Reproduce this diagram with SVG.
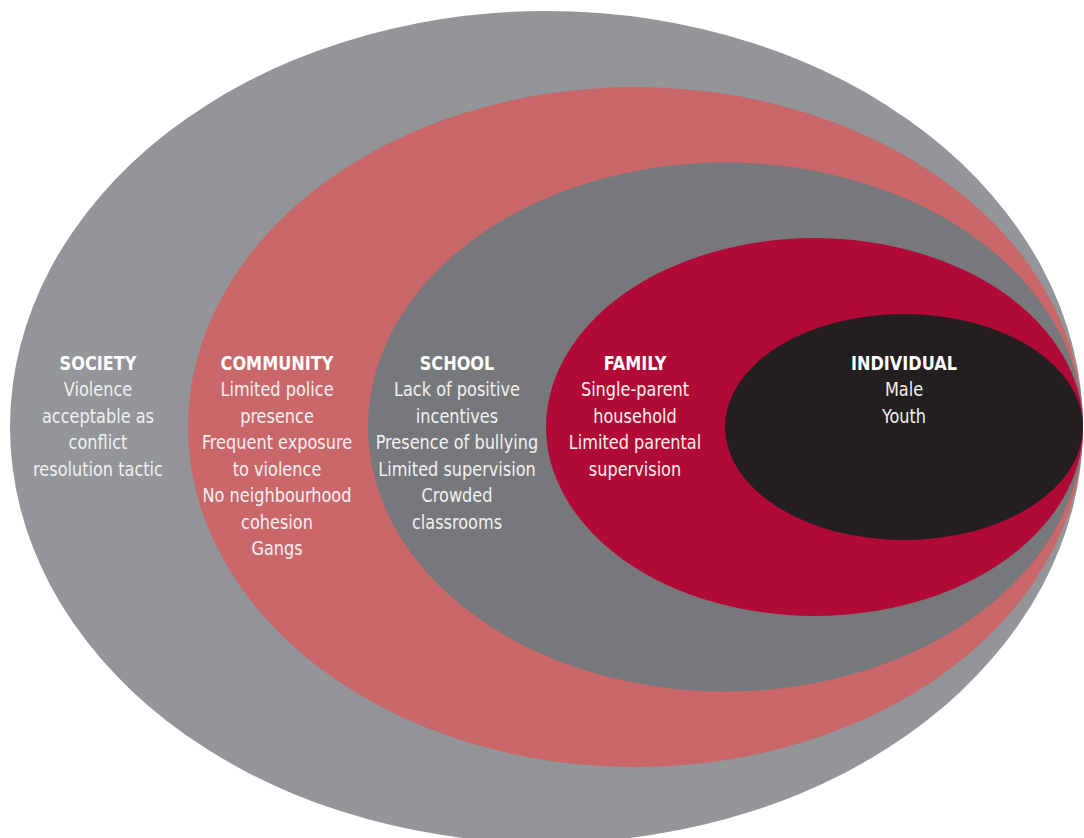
<svg xmlns="http://www.w3.org/2000/svg" width="1084" height="838" viewBox="0 0 1084 838">
<style>
.t{font-family:"Liberation Sans Narrow","DejaVu Sans Condensed","Liberation Sans",sans-serif;font-size:19.5px;fill:#f1f1f1;text-anchor:middle}
.h{font-weight:bold;fill:#ffffff}
</style>
<rect width="1084" height="838" fill="#ffffff"/>
<g id="society">
<ellipse cx="546.5" cy="427" rx="536.5" ry="416" fill="#939598"/>
<text class="t" transform="translate(98 0) scale(0.92 1)"><tspan class="h" x="0" y="370">SOCIETY</tspan><tspan x="0" y="396.5">Violence</tspan><tspan x="0" y="423">acceptable as</tspan><tspan x="0" y="449.5">conflict</tspan><tspan x="0" y="476">resolution tactic</tspan></text>
</g>
<g id="community">
<ellipse cx="635.5" cy="427" rx="447.5" ry="340" fill="#c9676a"/>
<text class="t" transform="translate(277 0) scale(0.92 1)"><tspan class="h" x="0" y="370">COMMUNITY</tspan><tspan x="0" y="396.5">Limited police</tspan><tspan x="0" y="423">presence</tspan><tspan x="0" y="449.5">Frequent exposure</tspan><tspan x="0" y="476">to violence</tspan><tspan x="0" y="502.5">No neighbourhood</tspan><tspan x="0" y="529">cohesion</tspan><tspan x="0" y="555.5">Gangs</tspan></text>
</g>
<g id="school">
<ellipse cx="725.5" cy="427" rx="357.5" ry="264.5" fill="#77787b"/>
<text class="t" transform="translate(457 0) scale(0.92 1)"><tspan class="h" x="0" y="370">SCHOOL</tspan><tspan x="0" y="396.5">Lack of positive</tspan><tspan x="0" y="423">incentives</tspan><tspan x="0" y="449.5">Presence of bullying</tspan><tspan x="0" y="476">Limited supervision</tspan><tspan x="0" y="502.5">Crowded</tspan><tspan x="0" y="529">classrooms</tspan></text>
</g>
<g id="family">
<ellipse cx="814.5" cy="427" rx="268.5" ry="189" fill="#b20a36"/>
<text class="t" transform="translate(635 0) scale(0.92 1)"><tspan class="h" x="0" y="370">FAMILY</tspan><tspan x="0" y="396.5">Single-parent</tspan><tspan x="0" y="423">household</tspan><tspan x="0" y="449.5">Limited parental</tspan><tspan x="0" y="476">supervision</tspan></text>
</g>
<g id="individual">
<ellipse cx="904" cy="427" rx="179" ry="113" fill="#231f20"/>
<text class="t" transform="translate(904 0) scale(0.92 1)"><tspan class="h" x="0" y="370">INDIVIDUAL</tspan><tspan x="0" y="396.5">Male</tspan><tspan x="0" y="423">Youth</tspan></text>
</g>
<g id="connectors"></g>
</svg>
